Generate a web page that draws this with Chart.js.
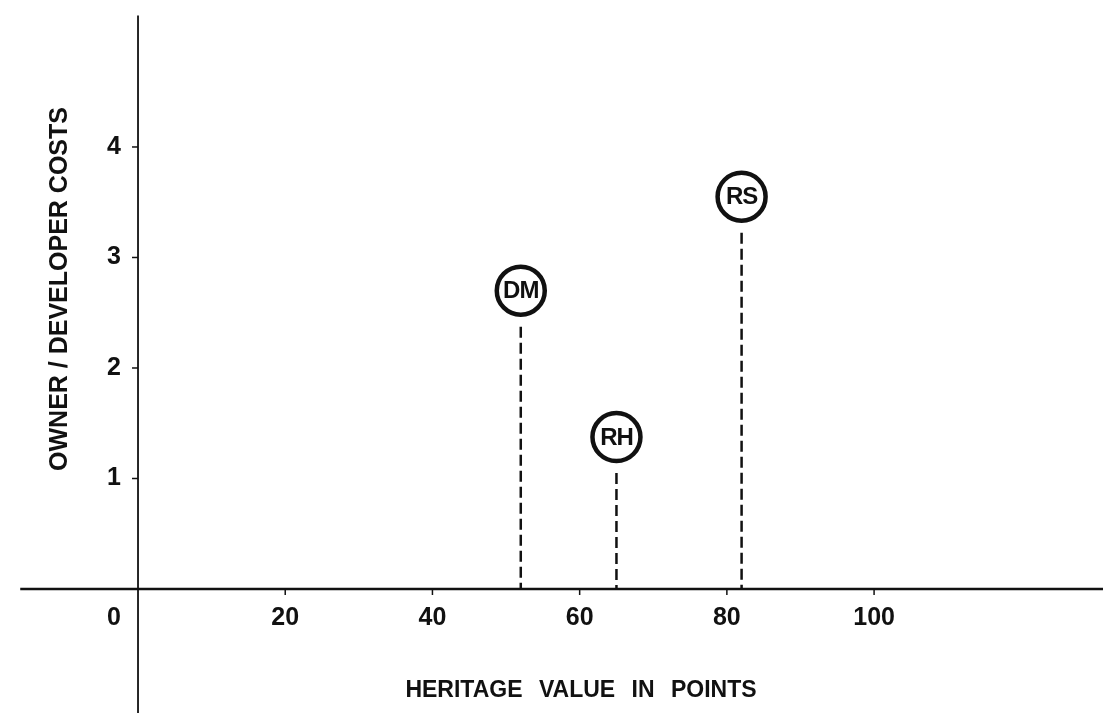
<!DOCTYPE html>
<html>
<head>
<meta charset="utf-8">
<script src="https://cdn.jsdelivr.net/npm/chart.js@4.4.0/dist/chart.umd.min.js"></script>
<style>
  html,body{margin:0;padding:0;background:#fff;}
</style>
</head>
<body>
<canvas id="grafica" width="1103" height="713"></canvas>
<script>
const ETIQUETAS = ["DM", "RH", "RS"];
const HERITAGE = [52, 65, 82];
const COSTS = [2.7, 1.375, 3.55];
const X_TICKS = [0, 20, 40, 60, 80, 100];
const Y_TICKS = [1, 2, 3, 4];
const X_TITLE = "HERITAGE VALUE IN POINTS";
const Y_TITLE = "OWNER / DEVELOPER COSTS";

const FUENTE = "'Liberation Sans', Arial, Helvetica, sans-serif";
const NEGRO = "#111";

// ejes, marcas, textos y lineas punteadas
const ejes = {
    id: "ejes",
    beforeDatasetsDraw(chart) {
        const ctx = chart.ctx;
        const x = chart.scales.x;
        const y = chart.scales.y;
        const x0 = x.getPixelForValue(0);
        const y0 = y.getPixelForValue(0);
        ctx.save();
        ctx.strokeStyle = NEGRO;
        ctx.fillStyle = NEGRO;

        // eje horizontal
        ctx.lineWidth = 2.5;
        ctx.beginPath();
        ctx.moveTo(x.getPixelForValue(-16), y0);
        ctx.lineTo(chart.width, y0);
        ctx.stroke();

        // eje vertical
        ctx.lineWidth = 1.8;
        ctx.beginPath();
        ctx.moveTo(x0, y.getPixelForValue(5.19));
        ctx.lineTo(x0, chart.height);
        ctx.stroke();

        // marcas
        ctx.lineWidth = 1.5;
        X_TICKS.forEach(v => {
            if (v === 0) return;
            const px = x.getPixelForValue(v);
            ctx.beginPath();
            ctx.moveTo(px, y0);
            ctx.lineTo(px, y0 + 6);
            ctx.stroke();
        });
        Y_TICKS.forEach(v => {
            const py = y.getPixelForValue(v);
            ctx.beginPath();
            ctx.moveTo(x0 - 6, py);
            ctx.lineTo(x0, py);
            ctx.stroke();
        });

        // etiquetas
        ctx.font = "bold 25px " + FUENTE;
        ctx.textAlign = "center";
        ctx.textBaseline = "middle";
        X_TICKS.forEach(v => {
            let px = x.getPixelForValue(v);
            if (v === 0) px -= 24;
            ctx.fillText(String(v), px, y0 + 29);
        });
        Y_TICKS.forEach(v => {
            ctx.fillText(String(v), x0 - 24, y.getPixelForValue(v));
        });

        // titulos
        ctx.font = "bold 23px " + FUENTE;
        try { ctx.wordSpacing = "10px"; } catch (e) {}
        ctx.fillText(X_TITLE, 581, 691);
        ctx.wordSpacing = "0px";
        ctx.font = "bold 25px " + FUENTE;
        ctx.translate(60, 289);
        ctx.rotate(-Math.PI / 2);
        ctx.fillText(Y_TITLE, 0, 0);
        ctx.restore();

        // lineas punteadas
        ctx.save();
        ctx.strokeStyle = NEGRO;
        ctx.lineWidth = 2.5;
        ctx.setLineDash([11, 5]);
        const meta = chart.getDatasetMeta(0);
        meta.data.forEach(p => {
            ctx.beginPath();
            ctx.moveTo(p.x, p.y + 36);
            ctx.lineTo(p.x, y0);
            ctx.stroke();
        });
        ctx.restore();
    },
    afterDatasetsDraw(chart) {
        const ctx = chart.ctx;
        const meta = chart.getDatasetMeta(0);
        ctx.save();
        ctx.fillStyle = NEGRO;
        ctx.font = "bold 24px " + FUENTE;
        try { ctx.letterSpacing = "-1px"; } catch (e) {}
        ctx.textAlign = "center";
        ctx.textBaseline = "middle";
        meta.data.forEach((p, i) => {
            ctx.fillText(ETIQUETAS[i], p.x, p.y + 1);
        });
        ctx.restore();
    }
};

window.onload = () => {
    const ctx = document.getElementById("grafica").getContext("2d");
    new Chart(ctx, {
        type: "scatter",
        data: {
            datasets: [{
                label: "Heritage",
                data: HERITAGE.map((v, i) => ({ x: v, y: COSTS[i] })),
                pointRadius: 24,
                pointBorderWidth: 4.5,
                borderColor: NEGRO,
                backgroundColor: "#fff",
                pointHoverRadius: 24
            }]
        },
        options: {
            responsive: false,
            animation: false,
            events: [],
            layout: { padding: 0, autoPadding: false },
            scales: {
                x: { type: "linear", min: -18.75, max: 131.1, display: false },
                y: { type: "linear", min: -1.122, max: 5.33, display: false }
            },
            plugins: {
                legend: { display: false },
                tooltip: { enabled: false }
            }
        },
        plugins: [ejes]
    });
};
</script>
</body>
</html>
